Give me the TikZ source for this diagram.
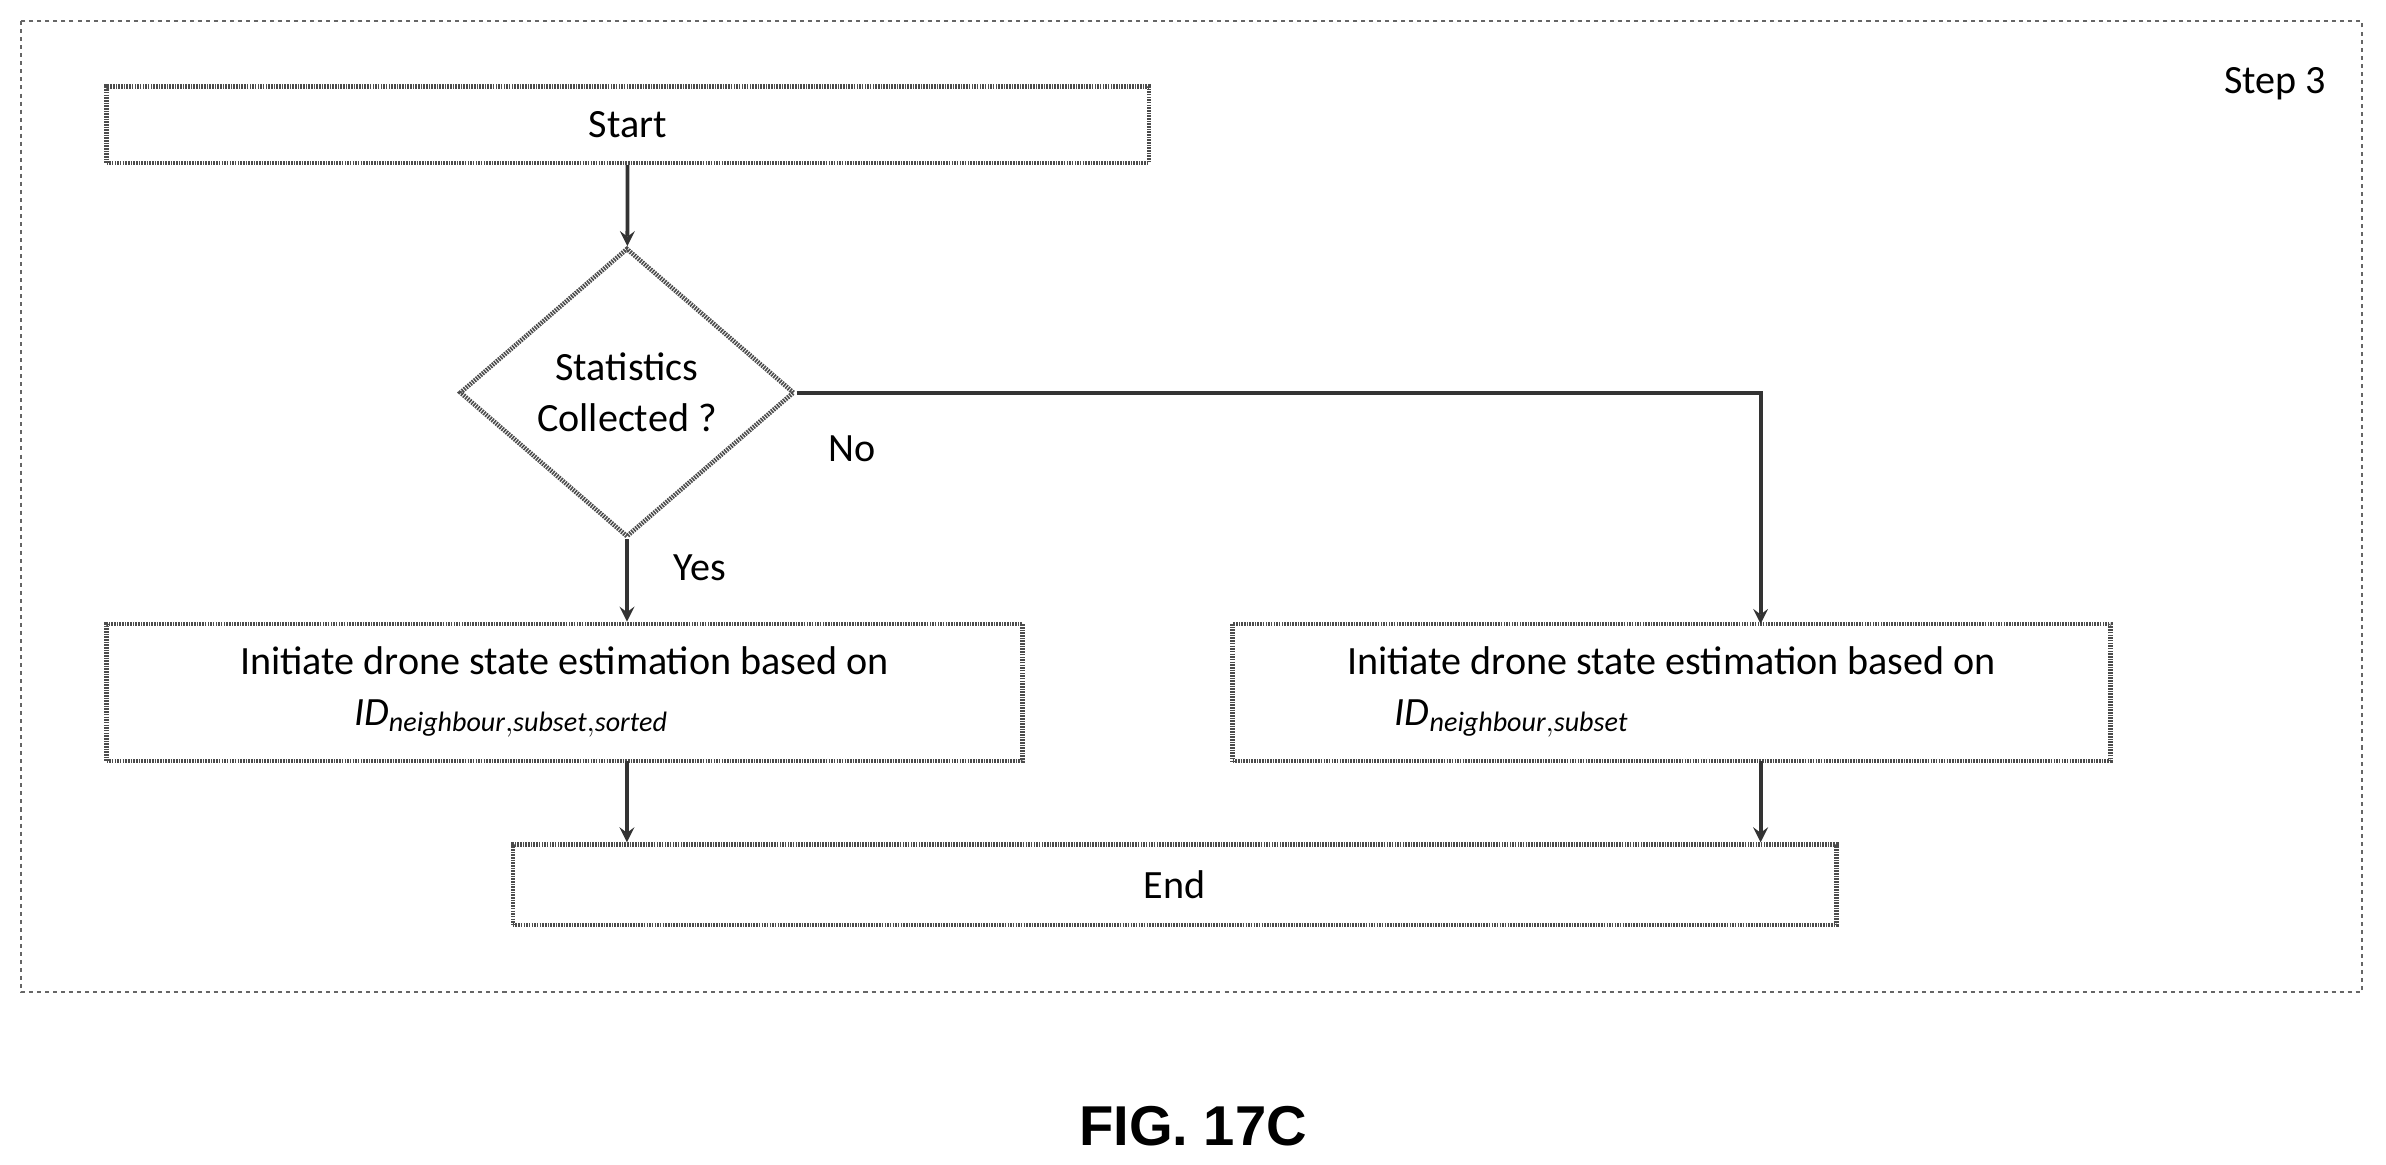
\documentclass[tikz,border=0pt]{standalone}
\usepackage{fontspec}
\setmainfont{Carlito}
\setsansfont{Liberation Sans}
\usetikzlibrary{shapes.geometric,positioning}
\tikzset{
  box/.style = {draw=black!70, line width=0.6mm, dash pattern=on 0.6pt off 0.4pt, minimum height=#1, inner sep=0pt, align=center, font=\fontsize{15}{19}\selectfont},
  flow/.style = {line width=0.5mm, -stealth, black!80},
}
\begin{document}
\begin{tikzpicture}
	\useasboundingbox (0,0) rectangle (31.36,-15.3);
	
	% frame
	\draw[black!60, line width=0.3mm, dash pattern=on 1.5pt off 1.5pt] (0.28,-0.28) rectangle (31.04,-13.04);
	\node[font=\fontsize{15}{18}\selectfont] (step) at (29.9,-1.1) {Step 3};
	
	\node[box=1cm, minimum width=13.7cm] (start) at (8.25,-1.64) {Start};
	\node[box=0cm, diamond, minimum width=4.4cm, minimum height=3.8cm, aspect=1.16] (stat) at (8.24,-5.16) {Statistics\\Collected ?};
	\node[box=1.8cm, minimum width=12.04cm] (left) at (7.42,-9.1) {Initiate drone state estimation based on\\\hspace*{-1.4cm}$\mathit{ID}_{\mathit{neighbour,subset,sorted}}$};
	\node[box=1.8cm, minimum width=11.54cm] (right) at (21.97,-9.1) {Initiate drone state estimation based on\\\hspace*{-4.2cm}$\mathit{ID}_{\mathit{neighbour,subset}}$};
	\node[box=1.06cm, minimum width=17.4cm] (end) at (15.44,-11.63) {End};
	
	\coordinate (corner) at (23.14,-5.16);
	\coordinate (lbot) at (8.24,-10.0);
	\coordinate (rbot) at (23.14,-10.0);
	\coordinate (rtop) at (23.14,-8.2);
	
	\draw[flow] (start) -- (stat);
	\draw[flow] (stat.south) -- (stat.south |- left.north);
	\draw[flow] (stat.east) -- (corner) -- (rtop);
	\draw[flow] (lbot) -- (lbot |- end.north);
	\draw[flow] (rbot) -- (rbot |- end.north);
	
	\node[font=\fontsize{15}{18}\selectfont] (no) at (11.2,-5.9) {No};
	\node[font=\fontsize{15}{18}\selectfont] (yes) at (9.2,-7.46) {Yes};
	
	\node[font=\sffamily\bfseries\fontsize{21}{24}\selectfont] (fig) at (15.68,-14.8) {FIG. 17C};
\end{tikzpicture}
\end{document}
